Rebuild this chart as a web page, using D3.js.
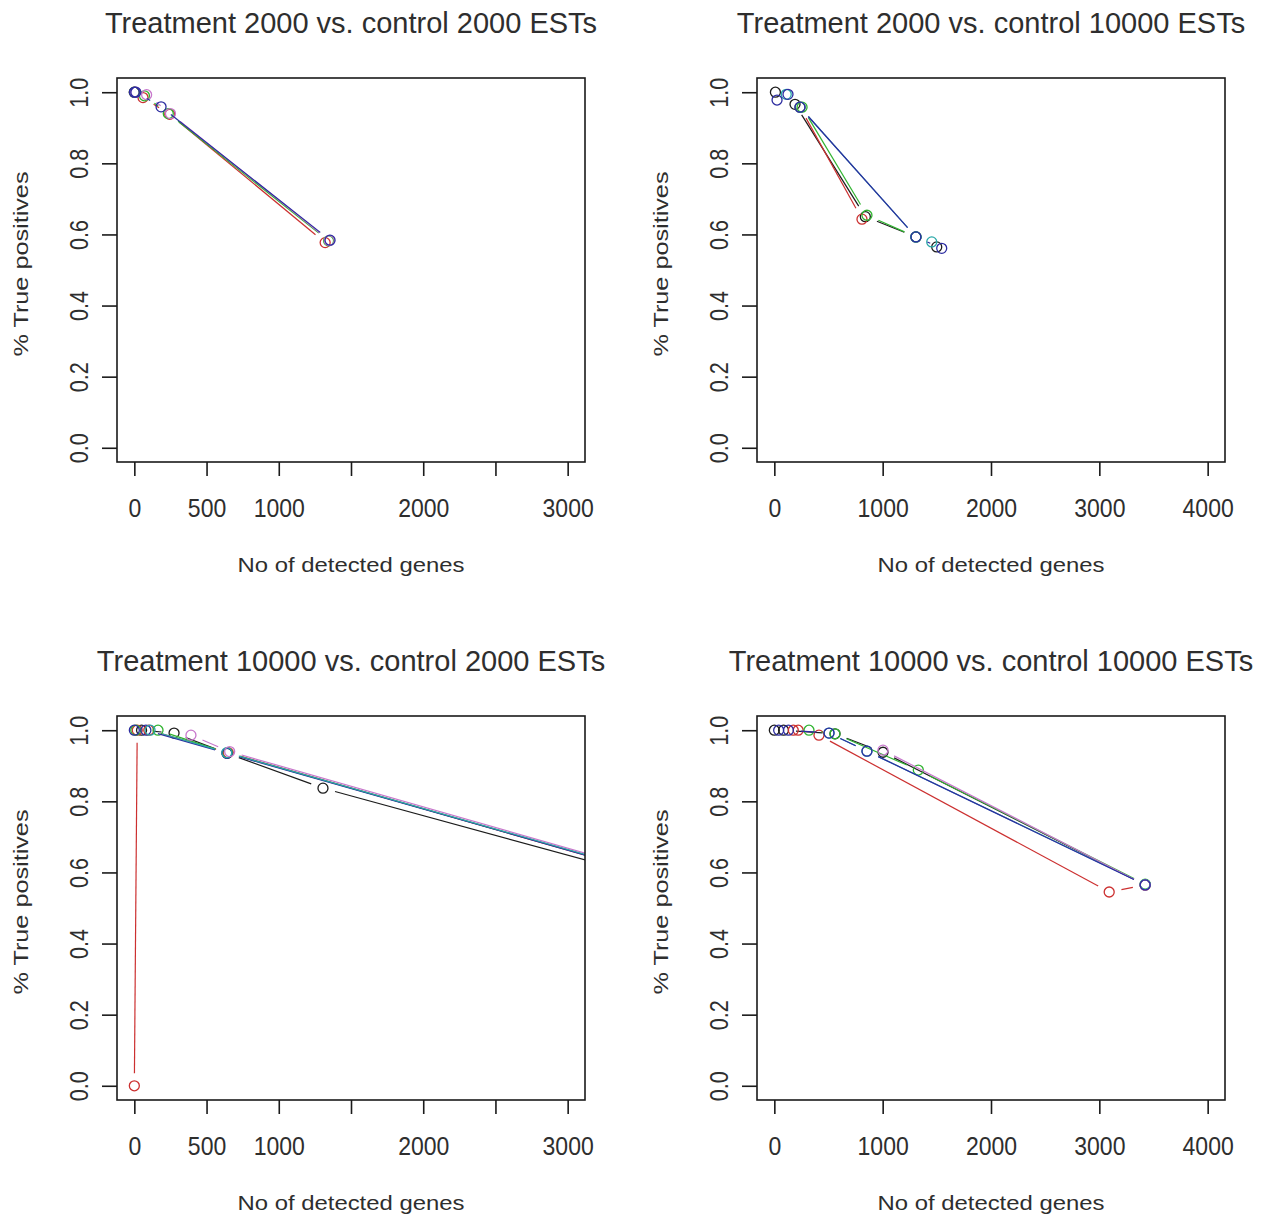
<!DOCTYPE html>
<html><head><meta charset="utf-8">
<script src="https://cdn.jsdelivr.net/npm/d3@7"></script>
<style>html,body{margin:0;padding:0;background:#fff;}svg{display:block;}</style>
</head><body>
<script>
// ---- data ----
const panelTitles = [
  "Treatment 2000 vs. control 2000 ESTs",
  "Treatment 2000 vs. control 10000 ESTs",
  "Treatment 10000 vs. control 2000 ESTs",
  "Treatment 10000 vs. control 10000 ESTs"
];
const xLabel = "No of detected genes";
const yLabel = "% True positives";
const xTicks3000 = [0,500,1000,1500,2000,2500,3000];
const xTicks3000Labels = ["0","500","1000","","2000","","3000"];
const xTicks4000 = [0,1000,2000,3000,4000];
const xTicks4000Labels = ["0","1000","2000","3000","4000"];
const yTicks = [0,0.2,0.4,0.6,0.8,1.0];
const yTickLabels = ["0.0","0.2","0.4","0.6","0.8","1.0"];
const xLimits = [[0,3000],[0,4000],[0,3000],[0,4000]];
const yLimits = [0,1];

// series: [genes, fraction true positives]
const panel1Series = [
  {name:"red",     pts:[[0,1.0],[60,0.985],[245,0.938],[1321,0.577]]},
  {name:"green",   pts:[[0,1.0],[70,0.99],[235,0.94],[1345,0.582]]},
  {name:"magenta", pts:[[10,1.0],[85,0.993],[250,0.94],[1350,0.583]]},
  {name:"blue",    pts:[[0,1.0],[10,1.0],[185,0.959],[1355,0.584]]}
];
const panel2Series = [
  {name:"black",   pts:[[10,1.0],[191,0.966],[840,0.65],[1307,0.593],[1499,0.565]]},
  {name:"red",     pts:[[237,0.958],[809,0.643]]},
  {name:"green",   pts:[[256,0.958],[855,0.654],[1307,0.593]]},
  {name:"cyan",    pts:[[110,0.994],[237,0.958],[1307,0.593],[1453,0.579]]},
  {name:"blue",    pts:[[25,0.978],[126,0.994],[237,0.958],[1307,0.593],[1545,0.561]]}
];
const panel3Series = [
  {name:"black",   pts:[[50,1.0],[275,0.992],[642,0.935],[1306,0.837],[3500,0.593]]},
  {name:"red",     pts:[[0,0.0],[20,1.0],[100,1.0],[650,0.937],[3500,0.604]]},
  {name:"green",   pts:[[10,1.0],[164,1.0],[645,0.936],[3500,0.606]]},
  {name:"blue",    pts:[[0,1.0],[80,1.0],[642,0.935],[3500,0.605]]},
  {name:"cyan",    pts:[[109,1.0],[640,0.937],[3500,0.607]]},
  {name:"magenta", pts:[[392,0.986],[660,0.94],[3500,0.61]]}
];
const panel4Series = [
  {name:"black",   pts:[[0,1.0],[85,1.0],[560,0.99],[1003,0.938],[3423,0.565]]},
  {name:"red",     pts:[[175,1.0],[220,1.0],[412,0.986],[3091,0.545],[3423,0.565]]},
  {name:"green",   pts:[[320,1.0],[560,0.99],[1329,0.888],[3423,0.567]]},
  {name:"cyan",    pts:[[505,0.992],[855,0.941],[3423,0.566]]},
  {name:"magenta", pts:[[1003,0.944],[3423,0.565]]},
  {name:"blue",    pts:[[40,1.0],[130,1.0],[505,0.992],[855,0.941],[3423,0.565]]}
];
const allSeries = [panel1Series, panel2Series, panel3Series, panel4Series];
const allXTicks = [xTicks3000, xTicks4000, xTicks3000, xTicks4000];
const allXTickLabels = [xTicks3000Labels, xTicks4000Labels, xTicks3000Labels, xTicks4000Labels];

// ---- styles ----
const colors = {black:"#1c1c1c", red:"#cc3030", green:"#30b430", blue:"#2c2ca0", cyan:"#2aa8a8", magenta:"#c878cc"};
const W = 1265, H = 1218;
const offsets = [[0,0],[640,0],[0,638],[640,638]];
const box = {left:117, top:78, width:468, height:384};
const GAP = 12.5, R = 5;
const FONT = "'Liberation Sans', Arial, Helvetica, sans-serif";
const TEXT = "#2e2e2e";

const svg = d3.select("body").append("svg").attr("width", W).attr("height", H)
  .style("font-family", FONT);
svg.append("rect").attr("width", W).attr("height", H).attr("fill", "#fff");

const expand = ([a,b]) => [a - 0.04*(b-a), b + 0.04*(b-a)];

allSeries.forEach((series, i) => {
  const [ox, oy] = offsets[i];
  const g = svg.append("g").attr("transform", `translate(${ox + box.left},${oy + box.top})`);
  const x = d3.scaleLinear().domain(expand(xLimits[i])).range([0, box.width]);
  const y = d3.scaleLinear().domain(expand(yLimits)).range([box.height, 0]);

  const clipId = "clip" + i;
  g.append("clipPath").attr("id", clipId).append("rect")
    .attr("width", box.width).attr("height", box.height);

  const plot = g.append("g").attr("clip-path", `url(#${clipId})`);
  series.forEach(s => {
    const P = s.pts.map(d => [x(d[0]), y(d[1])]);
    const segs = [];
    for (let k = 0; k < P.length - 1; k++) {
      const [x1,y1] = P[k], [x2,y2] = P[k+1];
      const L = Math.hypot(x2-x1, y2-y1);
      if (L > 2*GAP) {
        const ux = (x2-x1)/L, uy = (y2-y1)/L;
        segs.push([x1+ux*GAP, y1+uy*GAP, x2-ux*GAP, y2-uy*GAP]);
      }
    }
    plot.append("g").selectAll("line").data(segs).join("line")
      .attr("x1", d=>d[0]).attr("y1", d=>d[1]).attr("x2", d=>d[2]).attr("y2", d=>d[3])
      .attr("stroke", colors[s.name]).attr("stroke-width", 1.2);
    plot.append("g").selectAll("circle").data(s.pts).join("circle")
      .attr("cx", d=>x(d[0])).attr("cy", d=>y(d[1])).attr("r", R)
      .attr("fill", "none").attr("stroke", colors[s.name]).attr("stroke-width", 1.3);
  });

  // box
  g.append("rect").attr("width", box.width).attr("height", box.height)
    .attr("fill", "none").attr("stroke", "#1a1a1a").attr("stroke-width", 1.6);

  // x axis
  const labs = allXTickLabels[i];
  const ticks = allXTicks[i];
  const xa = g.append("g").attr("transform", `translate(0,${box.height})`)
    .call(d3.axisBottom(x).tickValues(ticks).tickSize(14).tickSizeOuter(0)
      .tickFormat((d, k) => labs[k]));
  xa.select(".domain").remove();
  xa.selectAll(".tick line").attr("stroke", "#1a1a1a").attr("stroke-width", 1.6);
  xa.selectAll(".tick text").attr("y", 55).attr("dy", 0)
    .attr("fill", TEXT).style("font-size", "25px").style("font-family", FONT)
    .attr("textLength", function(){ const t = this.textContent; return t ? t.length*12.8 : null; })
    .attr("lengthAdjust", "spacingAndGlyphs");

  // y axis
  const ya = g.append("g")
    .call(d3.axisLeft(y).tickValues(yTicks).tickSize(15).tickSizeOuter(0)
      .tickFormat((d, k) => yTickLabels[k]));
  ya.select(".domain").remove();
  ya.selectAll(".tick line").attr("stroke", "#1a1a1a").attr("stroke-width", 1.6);
  ya.selectAll(".tick text").attr("transform", "rotate(-90)")
    .attr("x", 0).attr("y", -29).attr("dy", 0).attr("text-anchor", "middle")
    .attr("fill", TEXT).style("font-size", "26px").style("font-family", FONT)
    .attr("textLength", 30).attr("lengthAdjust", "spacingAndGlyphs");

  // titles
  g.append("text").attr("x", box.width/2).attr("y", -45).attr("text-anchor", "middle")
    .attr("fill", TEXT).style("font-size", "29px").text(panelTitles[i]);
  g.append("text").attr("x", box.width/2).attr("y", box.height + 110).attr("text-anchor", "middle")
    .attr("fill", TEXT).style("font-size", "21px")
    .attr("textLength", 227).attr("lengthAdjust", "spacingAndGlyphs").text(xLabel);
  g.append("text").attr("transform", `translate(-89,${box.height/2 - 6}) rotate(-90)`)
    .attr("text-anchor", "middle").attr("fill", TEXT).style("font-size", "21px")
    .attr("textLength", 185).attr("lengthAdjust", "spacingAndGlyphs").text(yLabel);
});
</script>
</body></html>
